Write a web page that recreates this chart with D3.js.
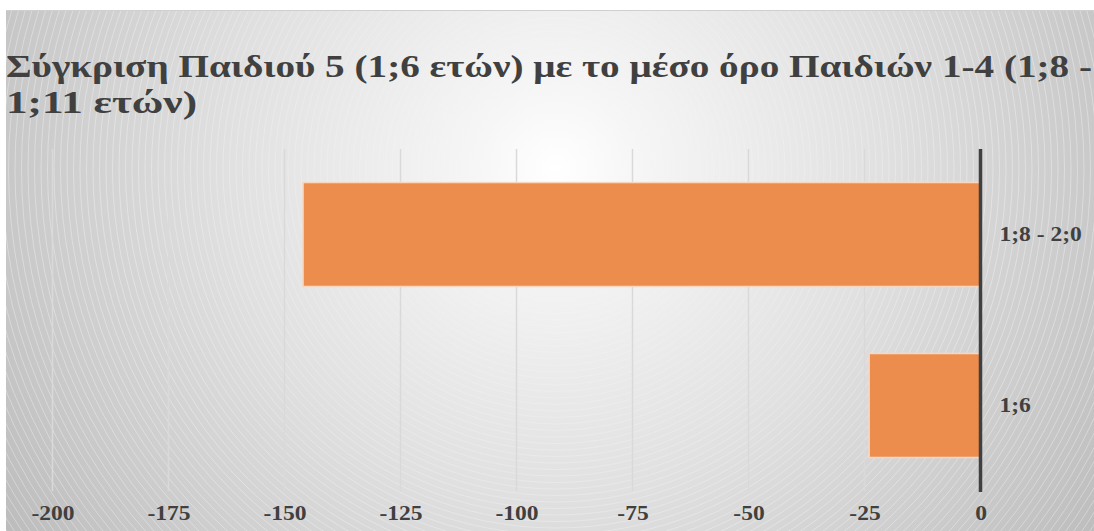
<!DOCTYPE html>
<html>
<head>
<meta charset="utf-8">
<script src="https://cdn.jsdelivr.net/npm/d3@7/dist/d3.min.js"></script>
<style>
  html, body { margin: 0; padding: 0; background: #ffffff; }
  svg { display: block; }
</style>
</head>
<body>
<svg id="chart" width="1094" height="531"></svg>
<script>
// Age groups (top to bottom) and the difference in score for each
const categories = ["1;8 - 2;0", "1;6"];
const values = [-146, -24];
const tickValues = [-200, -175, -150, -125, -100, -75, -50, -25, 0];
const titleLines = [
  "Σύγκριση Παιδιού 5 (1;6 ετών) με το μέσο όρο  Παιδιών 1-4 (1;8 -",
  "1;11 ετών)"
];

const W = 1094, H = 531;
const FONT = "'Liberation Serif', 'Times New Roman', serif";
const svg = d3.select("#chart");
const defs = svg.append("defs");

// Widen a text element horizontally by a factor, keeping its font height
function stretch(sel, factor) {
  sel.each(function () {
    const len = this.getComputedTextLength();
    d3.select(this).attr("textLength", len * factor).attr("lengthAdjust", "spacingAndGlyphs");
  });
}

// Chart frame
const frame = { x: 6, y: 10, w: W - 6, h: H - 10 };
const plot = { left: 52.5, right: 980.5, top: 149, bottom: 491 };

// Radial background: bright spot behind the upper centre, grey towards the corners
const grad = defs.append("radialGradient")
  .attr("id", "bg").attr("gradientUnits", "userSpaceOnUse")
  .attr("cx", 556).attr("cy", 169).attr("r", 660);
grad.append("stop").attr("offset", 0).attr("stop-color", "#ffffff");
grad.append("stop").attr("offset", 0.12).attr("stop-color", "#f6f6f6");
grad.append("stop").attr("offset", 0.5).attr("stop-color", "#e0e0e0");
grad.append("stop").attr("offset", 1).attr("stop-color", "#bcbcbc");

defs.append("clipPath").attr("id", "frameClip")
  .append("rect").attr("x", frame.x).attr("y", frame.y)
  .attr("width", frame.w).attr("height", frame.h);

svg.append("rect")
  .attr("x", frame.x).attr("y", frame.y)
  .attr("width", frame.w).attr("height", frame.h)
  .attr("fill", "url(#bg)");

// Fine concentric rings of the background texture
const rings = svg.append("g").attr("clip-path", "url(#frameClip)");
rings.selectAll("circle")
  .data(d3.range(60, 720, 6.5))
  .join("circle")
  .attr("cx", 556).attr("cy", 169).attr("r", d => d)
  .attr("fill", "none")
  .attr("stroke", "#ffffff")
  .attr("stroke-opacity", d => Math.min(0.55, d / 800))
  .attr("stroke-width", 0.6);

// Top border of the frame
svg.append("line")
  .attr("x1", frame.x).attr("x2", W)
  .attr("y1", frame.y + 0.5).attr("y2", frame.y + 0.5)
  .attr("stroke", "#cfcfcf").attr("stroke-width", 1);

// Scales
const x = d3.scaleLinear().domain([-200, 0]).range([plot.left, plot.right]);
const y = d3.scaleBand().domain(categories)
  .range([plot.top, plot.bottom])
  .paddingInner(0.392).paddingOuter(0.196);

// Vertical gridlines
svg.append("g")
  .selectAll("line")
  .data(tickValues.filter(v => v !== 0))
  .join("line")
  .attr("x1", d => x(d)).attr("x2", d => x(d))
  .attr("y1", plot.top).attr("y2", plot.bottom)
  .attr("stroke", "#d9d9d9").attr("stroke-width", 1.5);

// Bars
svg.append("g")
  .selectAll("rect")
  .data(categories.map((c, i) => ({ c, v: values[i] })))
  .join("rect")
  .attr("x", d => x(d.v))
  .attr("y", d => y(d.c))
  .attr("width", d => x(0) - x(d.v))
  .attr("height", y.bandwidth())
  .attr("fill", "#ec8d4e")
  .attr("stroke", "#f9d7be")
  .attr("stroke-width", 1.5);

// Zero axis line
svg.append("line")
  .attr("x1", x(0)).attr("x2", x(0))
  .attr("y1", plot.top).attr("y2", plot.bottom + 1)
  .attr("stroke", "#404040").attr("stroke-width", 3.5);

// Bottom axis tick labels (plain hyphen for negatives)
const xAxis = d3.axisBottom(x).tickValues(tickValues).tickSize(0).tickPadding(0)
  .tickFormat(d => String(d));
const gx = svg.append("g").attr("transform", `translate(0, ${plot.bottom + 14})`).call(xAxis);
gx.select(".domain").remove();
gx.selectAll("text")
  .attr("font-family", FONT)
  .attr("font-weight", "bold")
  .attr("font-size", 21)
  .attr("fill", "#404040")
  .call(stretch, 1.12);

// Category labels on the right of the zero line
const yAxis = d3.axisRight(y).tickSize(0).tickPadding(0);
const gy = svg.append("g").attr("transform", `translate(${x(0) + 19}, 0)`).call(yAxis);
gy.select(".domain").remove();
gy.selectAll("text")
  .attr("font-family", FONT)
  .attr("font-weight", "bold")
  .attr("font-size", 21)
  .attr("fill", "#404040")
  .call(stretch, 1.12);

// Title, two lines
const titleWidths = [1086, 191];
svg.append("text")
  .attr("font-family", FONT)
  .attr("font-weight", "bold")
  .attr("font-size", 32)
  .attr("fill", "#404040")
  .selectAll("tspan")
  .data(titleLines)
  .join("tspan")
  .attr("x", 6)
  .attr("y", (d, i) => 77 + i * 36)
  .attr("textLength", (d, i) => titleWidths[i])
  .attr("lengthAdjust", "spacingAndGlyphs")
  .text(d => d);
</script>
</body>
</html>
